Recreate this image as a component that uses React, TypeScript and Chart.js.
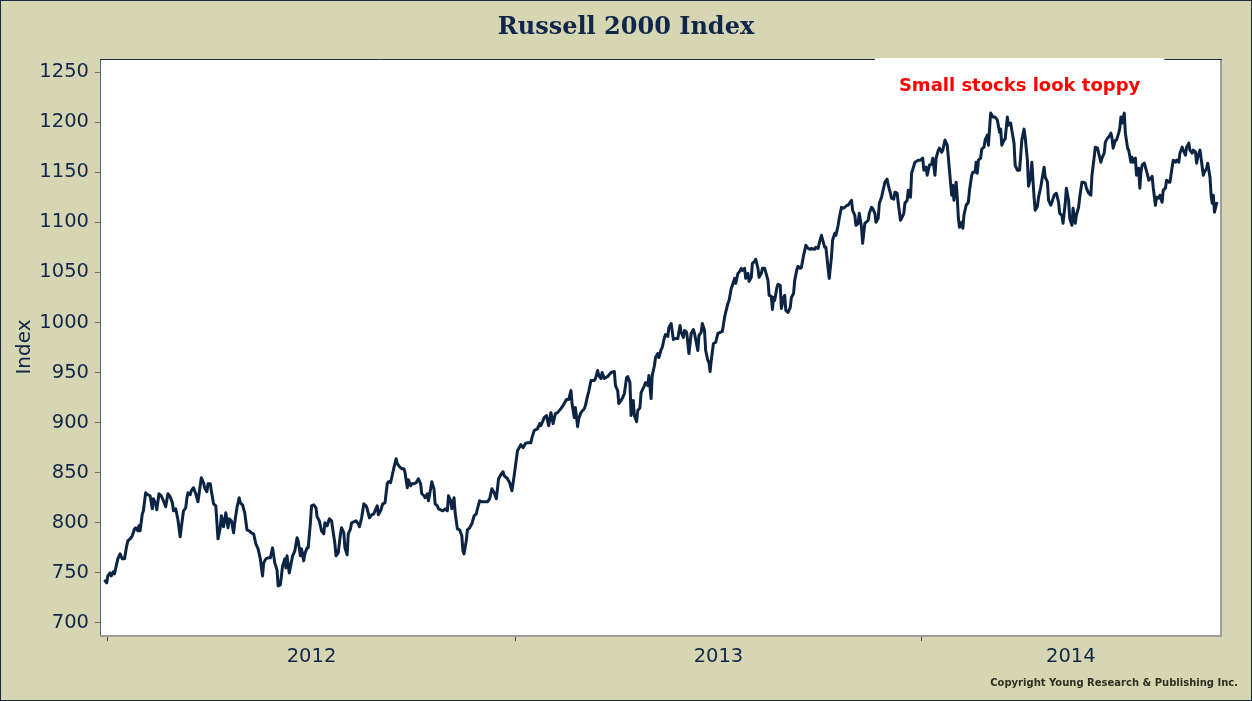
import { useEffect, useRef } from 'react';
import { Chart, registerables } from 'chart.js';

Chart.register(...registerables);

const chartTitle = 'Russell 2000 Index';
const yAxisTitle = 'Index';
const noteText = 'Small stocks look toppy';
const copyrightText = 'Copyright Young Research & Publishing Inc.';

// x values are days counted from 2012-01-01
const yearLabels = ['2012', '2013', '2014'];
const yearStartDays = [0, 366, 731];
const xMinDay = -7;
const xMaxDay = 999;
const yTicks = [700, 750, 800, 850, 900, 950, 1000, 1050, 1100, 1150, 1200, 1250];
const yMin = 688;
const yMax = 1263;
const noteDay = 819;
const noteValue = 1236;

// day-of-year and index value per year
const days2012 = [
  -3, -1, 0, 2, 3, 5, 6, 8, 9, 11,
  13, 15, 17, 18, 20, 22, 24, 25, 27, 28,
  29, 31, 32, 34, 36, 38, 40, 41, 43, 44,
  46, 48, 50, 52, 54, 56, 58, 59, 61, 63,
  65, 66, 68, 70, 71, 72, 74, 75, 77, 79,
  81, 83, 84, 86, 87, 89, 90, 92, 93, 95,
  97, 99, 101, 102, 104, 106, 108, 109, 111, 113,
  114, 116, 118, 119, 121, 123, 125, 127, 129, 131,
  133, 135, 137, 139, 140, 142, 144, 146, 148, 150,
  152, 153, 155, 157, 159, 160, 161, 163, 166, 168,
  170, 171, 173, 174, 176, 177, 179, 180, 182, 183,
  185, 187, 188, 190, 192, 194, 195, 197, 199, 201,
  202, 204, 205, 207, 209, 210, 212, 213, 215, 216,
  218, 219, 221, 223, 225, 226, 228, 230, 232, 233,
  235, 237, 239, 240, 242, 243, 245, 247, 249, 251,
  252, 254, 255, 257, 259, 260, 262, 264, 266, 267,
  269, 270, 272, 273, 275, 277, 279, 281, 282, 284,
  285, 287, 288, 290, 291, 293, 294, 296, 297, 299,
  301, 303, 305, 306, 308, 309, 311, 312, 314, 316,
  318, 319, 320, 322, 323, 325, 327, 329, 331, 332,
  334, 336, 338, 341, 343, 345, 347, 349, 351, 353,
  355, 356, 359, 361, 363, 365,
];
const values2012 = [
  743, 740, 747, 750, 747, 751, 749, 759, 764, 769,
  764, 764, 777, 782, 784, 787, 794, 795, 792, 797,
  792, 809, 812, 830, 828, 827, 814, 824, 819, 813,
  829, 827, 822, 816, 829, 826, 820, 812, 814, 803,
  786, 795, 812, 815, 824, 830, 828, 832, 835, 829,
  821, 837, 845, 840, 835, 831, 839, 839, 832, 819,
  817, 784, 795, 807, 796, 810, 795, 804, 802, 790,
  800, 815, 825, 820, 818, 810, 793, 792, 790, 789,
  779, 774, 764, 747, 760, 764, 765, 765, 775, 760,
  753, 737, 738, 757, 764, 755, 767, 750, 767, 772,
  785, 782, 767, 774, 762, 769, 775, 775, 800, 817,
  818, 815, 806, 802, 792, 789, 800, 797, 804, 802,
  794, 779, 767, 770, 789, 795, 790, 775, 768, 789,
  794, 800, 801, 802, 799, 796, 805, 819, 817, 814,
  805, 808, 809, 812, 817, 808, 812, 819, 820, 839,
  841, 840, 845, 855, 864, 859, 856, 854, 854, 850,
  835, 843, 837, 839, 839, 840, 844, 839, 829, 827,
  825, 829, 822, 834, 841, 834, 819, 817, 814, 813,
  812, 814, 812, 827, 822, 814, 825, 810, 794, 793,
  787, 772, 769, 782, 793, 795, 799, 807, 809, 814,
  822, 821, 821, 821, 824, 834, 830, 824, 844, 848,
  851, 847, 844, 840, 832, 847,
];

const days2013 = [
  2, 3, 5, 7, 9, 11, 14, 15, 17, 20,
  22, 23, 26, 28, 30, 32, 34, 36, 38, 41,
  44, 46, 48, 50, 51, 53, 54, 56, 57, 59,
  62, 63, 65, 66, 68, 71, 72, 74, 75, 77,
  78, 80, 83, 86, 89, 90, 92, 93, 95, 96,
  98, 100, 101, 103, 104, 106, 107, 109, 110, 112,
  113, 116, 117, 119, 120, 122, 123, 125, 126, 128,
  129, 131, 132, 134, 135, 137, 138, 140, 142, 144,
  146, 148, 149, 151, 152, 154, 156, 158, 160, 161,
  164, 165, 167, 168, 170, 171, 173, 174, 175, 176,
  178, 180, 182, 184, 186, 188, 189, 191, 192, 194,
  195, 197, 198, 200, 201, 203, 204, 206, 207, 209,
  210, 212, 213, 215, 216, 218, 219, 221, 222, 224,
  225, 227, 228, 230, 231, 232, 233, 235, 236, 238,
  239, 241, 242, 243, 245, 247, 248, 250, 251, 253,
  254, 256, 257, 259, 261, 263, 265, 266, 269, 270,
  272, 273, 275, 276, 278, 279, 281, 282, 284, 285,
  287, 288, 290, 291, 293, 294, 296, 298, 299, 302,
  303, 305, 306, 308, 309, 311, 312, 314, 315, 317,
  318, 320, 321, 323, 324, 326, 327, 329, 330, 332,
  334, 335, 337, 338, 340, 341, 343, 344, 346, 347,
  349, 350, 352, 353, 355, 356, 359, 362, 364,
];
const values2013 = [
  872, 874, 878, 875, 879, 880, 880, 885, 892, 894,
  899, 897, 905, 907, 897, 910, 899, 909, 910, 914,
  919, 923, 923, 932, 919, 905, 915, 896, 904, 910,
  914, 917, 927, 931, 942, 942, 944, 952, 947, 944,
  950, 944, 946, 950, 951, 937, 932, 919, 922, 924,
  929, 945, 946, 940, 907, 922, 907, 901, 912, 915,
  930, 937, 940, 937, 947, 924, 947, 957, 965, 969,
  965, 973, 975, 985, 988, 986, 995, 999, 983, 984,
  984, 997, 990, 985, 992, 990, 969, 989, 993, 989,
  972, 987, 990, 999, 992, 972, 962, 960, 951, 962,
  979, 980, 989, 990, 991, 1005, 1010, 1019, 1022, 1034,
  1037, 1044, 1039, 1049, 1050, 1054, 1052, 1054, 1044, 1049,
  1041, 1045, 1059, 1061, 1063, 1054, 1045, 1049, 1054, 1054,
  1050, 1042, 1027, 1026, 1013, 1025, 1022, 1035, 1038, 1037,
  1014, 1025, 1027, 1012, 1010, 1015, 1025, 1029, 1042, 1053,
  1056, 1054, 1055, 1067, 1077, 1074, 1073, 1074, 1073, 1075,
  1074, 1079, 1087, 1083, 1075, 1075, 1054, 1044, 1065, 1082,
  1089, 1087, 1097, 1104, 1115, 1114, 1115, 1117, 1117, 1122,
  1112, 1107, 1097, 1099, 1109, 1095, 1079, 1099, 1100, 1102,
  1109, 1115, 1114, 1109, 1100, 1104, 1119, 1125, 1130, 1140,
  1143, 1137, 1129, 1124, 1123, 1130, 1129, 1119, 1102, 1104,
  1109, 1119, 1122, 1132, 1125, 1149, 1160, 1162, 1162,
];

const days2014 = [
  1, 2, 4, 5, 7, 9, 10, 12, 13, 15,
  16, 18, 19, 21, 23, 25, 26, 27, 28, 29,
  31, 32, 33, 34, 36, 37, 38, 40, 42, 43,
  45, 46, 48, 49, 50, 51, 53, 54, 56, 57,
  59, 60, 62, 64, 66, 68, 70, 71, 72, 74,
  75, 77, 78, 80, 81, 83, 84, 86, 88, 90,
  92, 93, 95, 96, 98, 99, 101, 102, 104, 105,
  107, 108, 110, 111, 113, 114, 116, 117, 119, 121,
  123, 124, 126, 127, 129, 130, 132, 133, 135, 136,
  138, 139, 141, 142, 144, 145, 147, 148, 150, 152,
  153, 155, 156, 158, 159, 161, 162, 164, 165, 167,
  168, 170, 171, 172, 174, 175, 177, 178, 179, 180,
  182, 183, 185, 186, 188, 189, 190, 192, 193, 195,
  196, 197, 198, 200, 201, 203, 204, 206, 207, 208,
  210, 211, 213, 214, 216, 217, 219, 220, 222, 223,
  225, 226, 228, 229, 231, 232, 234, 235, 237, 238,
  240, 241, 243, 244, 246, 247, 248, 250, 251, 253,
  254, 256, 257, 259, 260, 261, 262, 263, 265, 266,
];
const values2014 = [
  1164, 1152, 1155, 1147, 1157, 1158, 1164, 1147, 1164, 1172,
  1174, 1170, 1172, 1182, 1177, 1152, 1139, 1127, 1137, 1122,
  1140, 1125, 1104, 1095, 1100, 1094, 1107, 1117, 1120, 1132,
  1147, 1150, 1150, 1160, 1149, 1162, 1164, 1173, 1175, 1182,
  1187, 1177, 1209, 1205, 1205, 1202, 1190, 1193, 1177, 1182,
  1183, 1205, 1197, 1199, 1192, 1179, 1157, 1152, 1152, 1182,
  1193, 1185, 1162, 1136, 1145, 1160, 1125, 1112, 1116, 1125,
  1135, 1142, 1155, 1145, 1140, 1122, 1117, 1120, 1127, 1129,
  1120, 1109, 1107, 1099, 1119, 1134, 1122, 1104, 1097, 1114,
  1099, 1107, 1115, 1125, 1140, 1140, 1139, 1134, 1129, 1127,
  1147, 1165, 1175, 1174, 1169, 1160, 1164, 1169, 1180, 1184,
  1185, 1189, 1184, 1174, 1182, 1182, 1189, 1194, 1205, 1199,
  1209, 1189, 1174, 1172, 1160, 1165, 1160, 1164, 1147, 1154,
  1134, 1150, 1157, 1159, 1155, 1147, 1142, 1144, 1146, 1135,
  1117, 1125, 1124, 1127, 1120, 1132, 1134, 1142, 1140, 1140,
  1155, 1162, 1160, 1162, 1160, 1169, 1175, 1172, 1167, 1175,
  1179, 1172, 1169, 1172, 1170, 1159, 1165, 1172, 1164, 1147,
  1150, 1154, 1159, 1145, 1127, 1119, 1127, 1110, 1119, 1118,
];

const NAVY = '#10264a';
const LINE = '#0c2444';
const BG = '#d7d6b3';
const SANS = '"DejaVu Sans", Verdana, sans-serif';
const SERIF = '"DejaVu Serif", Georgia, serif';

export default function App() {
  const canvasRef = useRef<HTMLCanvasElement | null>(null);

  useEffect(() => {
    const canvas = canvasRef.current;
    if (!canvas) return;

    const dayLists = [days2012, days2013, days2014];
    const valueLists = [values2012, values2013, values2014];
    const points: { x: number; y: number }[] = [];
    dayLists.forEach((list, i) => {
      list.forEach((d, k) => points.push({ x: yearStartDays[i] + d, y: valueLists[i][k] }));
    });

    const yearEnds = [...yearStartDays.slice(1), Infinity];
    const labelCenters = yearStartDays.map(
      (s, i) => (Math.max(s, xMinDay) + Math.min(yearEnds[i], xMaxDay)) / 2
    );

    const decor = {
      id: 'decor',
      beforeDraw(chart: any) {
        const { ctx, width, height, chartArea: a } = chart;
        ctx.save();
        ctx.fillStyle = BG;
        ctx.fillRect(0, 0, width, height);
        ctx.strokeStyle = '#1b2b45';
        ctx.lineWidth = 1;
        ctx.strokeRect(0.5, 0.5, width - 1, height - 1);
        ctx.fillStyle = '#ffffff';
        ctx.fillRect(a.left, a.top, a.right - a.left, a.bottom - a.top);
        // title, centred on the whole picture
        ctx.font = `bold 24px ${SERIF}`;
        ctx.fillStyle = NAVY;
        ctx.textAlign = 'center';
        ctx.textBaseline = 'middle';
        ctx.fillText(chartTitle, width / 2, 27.5);
        ctx.restore();
      },
      afterDatasetsDraw(chart: any) {
        const { ctx, chartArea: a } = chart;
        ctx.save();
        ctx.lineWidth = 2;
        ctx.strokeStyle = '#9c9c9c';
        ctx.beginPath();
        ctx.moveTo(a.right + 1, a.top);
        ctx.lineTo(a.right + 1, a.bottom + 2);
        ctx.moveTo(a.left, a.bottom + 1);
        ctx.lineTo(a.right + 2, a.bottom + 1);
        ctx.stroke();
        ctx.lineWidth = 1;
        ctx.strokeStyle = '#55657a';
        ctx.beginPath();
        ctx.moveTo(a.left + 0.5, a.bottom);
        ctx.lineTo(a.left + 0.5, a.top + 0.5);
        ctx.stroke();
        ctx.strokeStyle = '#1b2b45';
        ctx.beginPath();
        ctx.moveTo(a.left, a.top + 0.5);
        ctx.lineTo(a.right + 2, a.top + 0.5);
        ctx.stroke();
        ctx.restore();
      },
      afterDraw(chart: any) {
        const { ctx, chartArea: a, width, height } = chart;
        const xs = chart.scales.x;
        const ys = chart.scales.y;
        const nx = xs.getPixelForValue(noteDay);
        const ny = ys.getPixelForValue(noteValue);
        ctx.save();
        ctx.font = `bold 18px ${SANS}`;
        const tw = ctx.measureText(noteText).width;
        ctx.fillStyle = '#ffffff';
        ctx.fillRect(nx - tw / 2 - 24, a.top - 1, tw + 48, 44);
        ctx.fillStyle = '#ff0000';
        ctx.textAlign = 'center';
        ctx.textBaseline = 'middle';
        ctx.fillText(noteText, nx, ny);
        ctx.font = `bold 10px ${SANS}`;
        ctx.fillStyle = '#2d3020';
        ctx.textAlign = 'right';
        ctx.fillText(copyrightText, width - 14, height - 18);
        ctx.restore();
      },
    };

    const chart = new Chart(canvas, {
      type: 'line',
      data: {
        datasets: [
          {
            data: points,
            borderColor: LINE,
            borderWidth: 3,
            pointRadius: 0,
            tension: 0,
            borderJoinStyle: 'round',
            fill: false,
          },
        ],
      },
      options: {
        animation: false,
        responsive: false,
        devicePixelRatio: 1,
        layout: { padding: { left: 0, right: 32, top: 59, bottom: 0 } },
        plugins: {
          legend: { display: false },
          tooltip: { enabled: false },
          title: { display: false },
        },
        scales: {
          x: {
            type: 'linear',
            min: xMinDay,
            max: xMaxDay,
            afterBuildTicks: (scale: any) => {
              const vals = [...yearStartDays, ...labelCenters].sort((p, q) => p - q);
              scale.ticks = vals.map((value) => ({ value }));
            },
            afterFit: (scale: any) => {
              scale.height = 66;
            },
            ticks: {
              autoSkip: false,
              maxRotation: 0,
              padding: 4,
              color: NAVY,
              font: { family: SANS, size: 19.5 },
              callback: (value: any) => {
                const i = labelCenters.indexOf(Number(value));
                return i >= 0 ? yearLabels[i] : '';
              },
            },
            grid: {
              drawOnChartArea: false,
              drawTicks: true,
              tickLength: 6,
              lineWidth: 1,
              color: (ctx: any) =>
                ctx.tick && yearStartDays.includes(ctx.tick.value) ? '#4d4d45' : 'rgba(0,0,0,0)',
            },
            border: { display: false },
          },
          y: {
            type: 'linear',
            min: yMin,
            max: yMax,
            afterBuildTicks: (scale: any) => {
              scale.ticks = yTicks.map((value) => ({ value }));
            },
            afterFit: (scale: any) => {
              scale.width = 100;
            },
            title: {
              display: true,
              text: yAxisTitle,
              color: NAVY,
              font: { family: SANS, size: 20, lineHeight: 1.2 },
              padding: { top: 13, bottom: 0 },
            },
            ticks: {
              padding: 6,
              color: NAVY,
              font: { family: SANS, size: 19.5 },
              callback: (value: any) => String(value),
            },
            grid: {
              drawOnChartArea: false,
              drawTicks: true,
              tickLength: 5,
              color: '#6e6e5c',
            },
            border: { display: false },
          },
        },
      },
      plugins: [decor],
    } as any);

    return () => chart.destroy();
  }, []);

  return (
    <div style={{ position: 'fixed', left: 0, top: 0, width: 1252, height: 701 }}>
      <canvas ref={canvasRef} width={1252} height={701} style={{ display: 'block' }} />
    </div>
  );
}
